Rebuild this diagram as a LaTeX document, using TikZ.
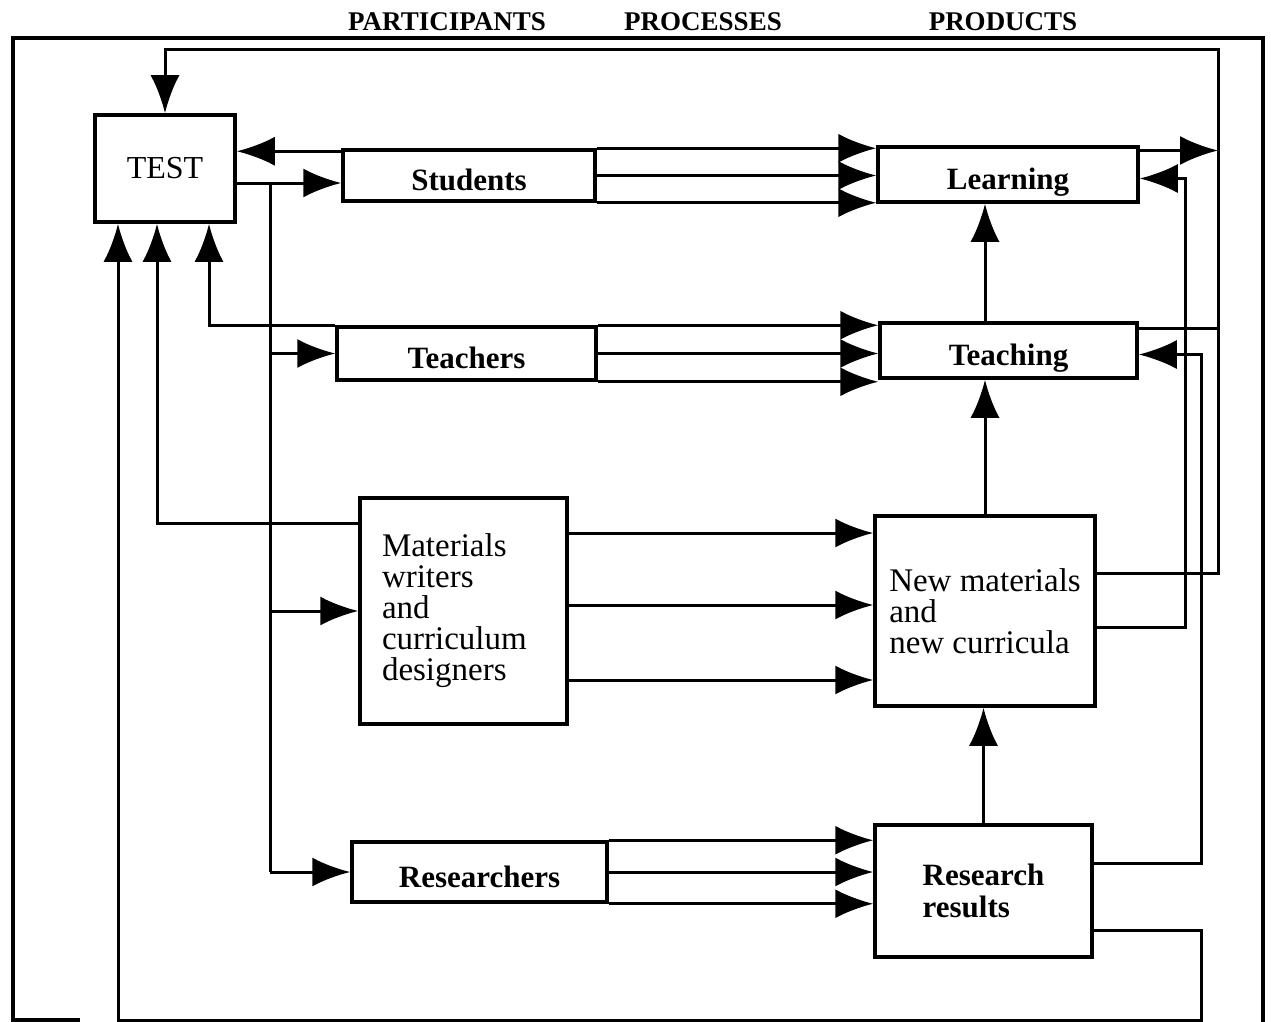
\documentclass[tikz,border=0pt]{standalone}
\usepackage{fontspec}
\setmainfont{Liberation Serif}
\usetikzlibrary{arrows.meta}
\tikzset{
  blk/.style   ={draw,line width=3.5pt,inner sep=0pt,align=center,
                 font=\fontsize{31}{32}\selectfont\bfseries},
  onel/.style  ={blk,text height=30pt,text depth=0pt},
  txtblk/.style={blk,align=left,font=\fontsize{33}{31}\selectfont},
  hdr/.style   ={font=\fontsize{27}{27}\selectfont\bfseries},
  link/.style  ={line width=3pt},
  flow/.style  ={link,-{Latex[length=38pt,width=29pt]}},
}

\begin{document}
\begin{tikzpicture}[x=1pt,y=-1pt]
\useasboundingbox (0,0) rectangle (1271,1022);

% headings and frame
\node[hdr] (hpart) at (447,22) {PARTICIPANTS};
\node[hdr] (hproc) at (703,22) {PROCESSES};
\node[hdr] (hprod) at (1003,22) {PRODUCTS};
\draw[line width=3.5pt] (80,1020) -- (13,1020) -- (13,38) -- (1263,38) -- (1263,1022);

% participants
\node[blk,font=\fontsize{32}{32}\selectfont,minimum width=140,minimum height=107]
  (test) at (165,168.5) {TEST};
\node[onel,minimum width=252,minimum height=51] (stud) at (469,175.5) {Students};
\node[onel,minimum width=259,minimum height=53] (teach) at (466.5,353.5) {Teachers};
\node[txtblk,text width=163,minimum width=207,minimum height=226] (mat) at (463.5,611)
  {Materials\\writers\\and\\curriculum\\designers};
\node[onel,minimum width=255,minimum height=60] (res) at (479.5,872) {Researchers};

% products
\node[onel,minimum width=260,minimum height=55] (learn) at (1008,174.5) {Learning};
\node[onel,minimum width=257,minimum height=55] (teaching) at (1008.5,350.5) {Teaching};
\node[txtblk,minimum width=220,minimum height=190] (newmat) at (985,611)
  {New materials\\and\\new curricula};
\node[blk,align=left,minimum width=217,minimum height=132] (rresult) at (983.5,891)
  {Research\\results};

% bus lines
\coordinate (pbus) at (270,183);
\coordinate (busR) at (1218,50);
\coordinate (busM) at (1201,0);
\coordinate (busL) at (1185,0);
\coordinate (busB) at (118,1020);

% test <-> participants
\draw[flow] ([yshift=-3pt]stud.north west) -- ([yshift=-3pt]stud.north west -| test.east);
\draw[flow] (test.east |- pbus) -- (stud.west |- pbus);
\draw[link] (pbus) -- (pbus |- res.west);
\draw[flow] (pbus |- teach.west) -- (teach.west);
\draw[flow] (pbus |- mat.west) -- (mat.west);
\draw[flow] (pbus |- res.west) -- (res.west);
\draw[flow] (teach.north west) -| ([xshift=44pt]test.south);
\draw[flow] ([yshift=88pt]mat.west) -| ([xshift=-8pt]test.south);

% participants -> products
\foreach \a in {north east,east,south east}{
  \draw[flow] (stud.\a) -- (stud.\a -| learn.west);
  \draw[flow] (teach.\a) -- (teach.\a -| teaching.west);
  \draw[flow] (res.\a) -- (res.\a -| rresult.west);
}
\foreach \d in {78,6,-69}
  \draw[flow] ([yshift=\d pt]mat.east) -- ([yshift=\d pt]mat.east -| newmat.west);

% products upwards
\draw[flow] (newmat.north |- teaching.north) -- (newmat.north |- learn.south);
\draw[flow] (newmat.north) -- (newmat.north |- teaching.south);
\draw[flow] (rresult.north) -- (rresult.north |- newmat.south);

% feedback loops
\draw[flow] ([yshift=24pt]learn.east) -- ([yshift=24pt]learn.east -| busR);
\draw[link] ([yshift=22pt]teaching.east) -- ([yshift=22pt]teaching.east -| busR);
\draw[flow] ([yshift=38pt]newmat.east) -| (busR) -| (test.north);
\draw[flow] ([yshift=-16pt]newmat.east) -| ([yshift=-4pt]learn.east -| busL)
  -- ([yshift=-4pt]learn.east);
\draw[flow] ([yshift=28pt]rresult.east) -| ([yshift=-4pt]teaching.east -| busM)
  -- ([yshift=-4pt]teaching.east);
\draw[flow] ([yshift=-39pt]rresult.east) -| (busM |- busB) -| ([xshift=-47pt]test.south);
\end{tikzpicture}
\end{document}
